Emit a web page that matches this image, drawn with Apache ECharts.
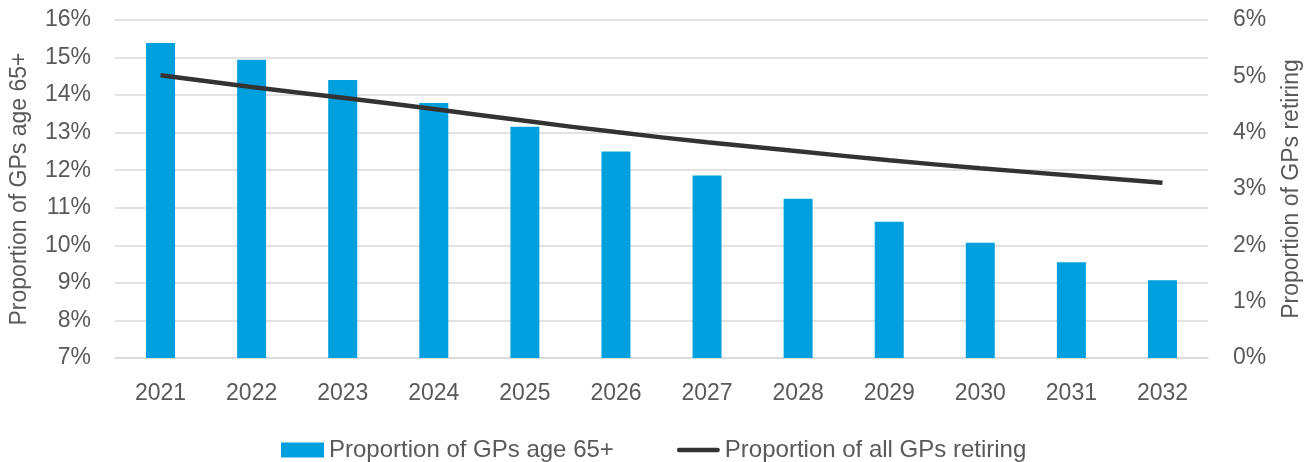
<!DOCTYPE html>
<html>
<head>
<meta charset="utf-8">
<script src="https://cdn.jsdelivr.net/npm/echarts@6/dist/echarts.min.js"></script>
<style>
  html, body { margin: 0; padding: 0; background: #fff; }
  #main { width: 1312px; height: 462px; }
</style>
</head>
<body>
<div id="main"></div>
<script>
var years = ['2021', '2022', '2023', '2024', '2025', '2026', '2027', '2028', '2029', '2030', '2031', '2032'];
// proportion of GPs age 65+ (%), left axis
var aged65 = [15.39, 14.94, 14.40, 13.79, 13.16, 12.50, 11.86, 11.24, 10.63, 10.07, 9.55, 9.07];
// proportion of all GPs retiring (%), right axis
var retiring = [5.02, 4.81, 4.62, 4.42, 4.21, 4.01, 3.83, 3.67, 3.51, 3.37, 3.24, 3.11];

var font = '"Liberation Sans", Arial, sans-serif';
var grey = '#595959';

var myChart = echarts.init(document.getElementById('main'));

var option = {
    animation: false,
    textStyle: { fontFamily: font },
    grid: { left: 113, right: 104, top: 20, bottom: 104 },
    legend: {
        left: 276,
        top: 433,
        itemWidth: 43,
        itemHeight: 15,
        itemGap: 63,
        itemTextGap: 3,
        textStyle: { fontSize: 24, color: grey, fontFamily: font },
        data: [
            { name: 'Proportion of GPs age 65+', icon: 'rect' },
            // plain thick line, no marker
            { name: 'Proportion of all GPs retiring', icon: 'path://M2,0 L41,0 A2,2 0 0 1 41,4.5 L2,4.5 A2,2 0 0 1 2,0 Z' }
        ]
    },
    xAxis: {
        type: 'category',
        data: years,
        axisLine: { lineStyle: { color: '#d9d9d9', width: 1.5 } },
        axisTick: { show: false },
        axisLabel: { color: grey, fontSize: 23, margin: 24, fontFamily: font }
    },
    yAxis: [
        {
            type: 'value',
            min: 7,
            max: 16,
            interval: 1,
            name: 'Proportion of GPs age 65+',
            nameLocation: 'middle',
            nameRotate: 90,
            nameGap: 84,
            nameTextStyle: { color: grey, fontSize: 23, fontFamily: font },
            axisLabel: { color: grey, fontSize: 23, margin: 24, formatter: '{value}%', fontFamily: font },
            splitLine: { lineStyle: { color: '#d9d9d9', width: 1.5 } },
            axisLine: { show: false },
            axisTick: { show: false }
        },
        {
            type: 'value',
            min: 0,
            max: 6,
            interval: 1,
            name: 'Proportion of GPs retiring',
            nameLocation: 'middle',
            nameRotate: 90,
            nameGap: 72,
            nameTextStyle: { color: grey, fontSize: 23, fontFamily: font },
            axisLabel: { color: grey, fontSize: 23, margin: 25, formatter: '{value}%', fontFamily: font },
            splitLine: { show: false },
            axisLine: { show: false },
            axisTick: { show: false }
        }
    ],
    series: [
        {
            name: 'Proportion of GPs age 65+',
            type: 'bar',
            data: aged65,
            barWidth: 29,
            itemStyle: { color: '#00a0df' }
        },
        {
            name: 'Proportion of all GPs retiring',
            type: 'line',
            yAxisIndex: 1,
            data: retiring,
            smooth: true,
            symbol: 'none',
            lineStyle: { color: '#333333', width: 4.5 },
            itemStyle: { color: '#333333' }
        }
    ]
};

myChart.setOption(option);
</script>
</body>
</html>
